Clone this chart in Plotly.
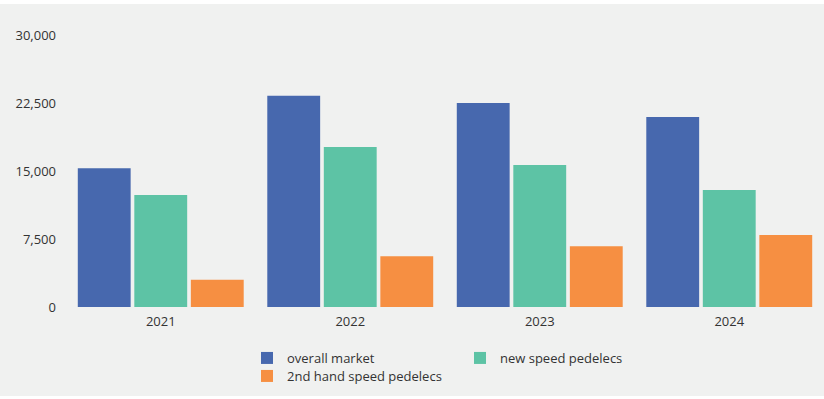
import plotly.graph_objects as go

years = ["2021", "2022", "2023", "2024"]
overall_market = [15300, 23300, 22500, 20950]
new_speed = [12350, 17650, 15650, 12900]
second_hand = [3000, 5600, 6700, 7950]

y_ticks = [0, 7500, 15000, 22500, 30000]
y_tick_text = ["0", "7,500", "15,000", "22,500", "30,000"]

BLUE = "#4768AE"
GREEN = "#5DC3A5"
ORANGE = "#F68F42"
BG = "#F0F1F0"
TEXT = "#333333"
FONT = "Open Sans"

W, H = 824, 399
M_L, M_R, M_T, M_B = 66, 0, 35, 92
plot_h = H - M_T - M_B


def py(px):
    """Convert a pixel row (from top) into paper y coordinates."""
    return (H - M_B - px) / plot_h


fig = go.Figure()
fig.add_trace(go.Bar(name="overall market", x=years, y=overall_market,
                     marker=dict(color=BLUE, line_width=0), legend="legend"))
fig.add_trace(go.Bar(name="new speed pedelecs", x=years, y=new_speed,
                     marker=dict(color=GREEN, line_width=0), legend="legend"))
fig.add_trace(go.Bar(name="2nd hand speed pedelecs", x=years, y=second_hand,
                     marker=dict(color=ORANGE, line_width=0), legend="legend2"))

legend_common = dict(
    orientation="h", xanchor="left", yanchor="top",
    bgcolor="rgba(0,0,0,0)", font=dict(family=FONT, size=13, color=TEXT),
    itemclick=False, itemdoubleclick=False,
)

legend_x = (247 - M_L) / (W - M_L - M_R)

fig.update_layout(
    width=W, height=H,
    margin=dict(l=M_L, r=M_R, t=M_T, b=M_B, pad=0),
    paper_bgcolor=BG, plot_bgcolor=BG,
    barmode="group", bargap=0.105, bargroupgap=0.065,
    font=dict(family=FONT, size=13, color=TEXT),
    xaxis=dict(showgrid=False, zeroline=False, showline=False, ticks="",
               ticklabelstandoff=5,
               tickfont=dict(family=FONT, size=13, color=TEXT)),
    yaxis=dict(range=[0, 30000], tickvals=y_ticks, ticktext=y_tick_text,
               showgrid=False, zeroline=False, showline=False, ticks="",
               ticklabelstandoff=9,
               tickfont=dict(family=FONT, size=13, color=TEXT)),
    legend=dict(x=legend_x, y=py(343), entrywidth=168, **legend_common),
    legend2=dict(x=legend_x, y=py(361), **legend_common),
    shapes=[
        dict(type="rect", xref="paper", yref="paper", x0=-0.2, x1=1.2,
             y0=py(4), y1=py(-2), fillcolor="white", line_width=0, layer="below"),
        dict(type="rect", xref="paper", yref="paper", x0=-0.2, x1=1.2,
             y0=py(402), y1=py(396), fillcolor="white", line_width=0, layer="below"),
    ],
)

fig.write_html("out.html")
